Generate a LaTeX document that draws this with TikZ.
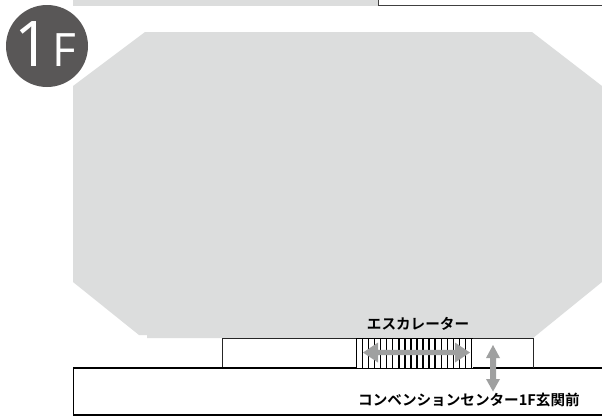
\documentclass[tikz,border=0pt]{standalone}
\usepackage{fontspec}
\newfontfamily\jpfont{Noto Sans CJK JP}[BoldFont={* Bold}]
\newfontfamily\openfont{Open Sans}
\definecolor{floorgray}{HTML}{DCDDDD}
\definecolor{arrowgray}{HTML}{9FA0A0}
\definecolor{badge}{HTML}{595757}
\tikzset{
  x=1pt,y=-1pt,
  wall/.style={draw=black,line width=1.5pt,fill=white},
  stripe/.style={draw=black,line width=1.35pt},
  label/.style={font=\jpfont\bfseries\fontsize{14.6}{14.6}\selectfont,text=black,inner sep=0pt},
  flow/.style={fill=arrowgray,draw=none}
}
\begin{document}
\begin{tikzpicture}
\useasboundingbox (0,0) rectangle (602,416);
\fill[white] (0,0) rectangle (602,416);
% top strip
\fill[floorgray] (73,0) rectangle (378,6);
\draw[draw=black!75,line width=1pt] (378.5,-2) -- (378.5,5) -- (604,5);
% main floor
\fill[floorgray] (145,32) -- (532,32) -- (602,86) -- (602,282) -- (533,338) -- (147,338) -- (147,335) -- (139,335) -- (73,282) -- (73,86) -- cycle;
% bottom rooms
\draw[wall] (73.5,368) rectangle (606,415);
\draw[draw=black!85,line width=1pt,fill=white] (222.5,368) -- (222.5,338) -- (533,338) -- (533,368);
\fill[white] (223.2,366) rectangle (532.4,369.5);
\draw[draw=black,line width=1.5pt] (222,368) -- (533,368);
% escalator
\fill[white] (356,338) rectangle (473,368);
\foreach \i in {0,...,19} \draw[stripe] ({356.5+\i*6.05},338) -- ({356.5+\i*6.05},368);
\draw[stripe,line width=1pt] (356,338) -- (473,338);
\draw[stripe,line width=1.5pt] (356,368.3) -- (473,368.3);
% arrows
\fill[flow] (363,352.5) -- (378,342.5) -- (378,349.8) -- (455,349.8) -- (455,342.5) -- (470,352.5) -- (455,362.5) -- (455,355.2) -- (378,355.2) -- (378,362.5) -- cycle;
\fill[flow] (493,345) -- (500,358) -- (496,358) -- (496,379) -- (500,379) -- (493,391.5) -- (486,379) -- (490,379) -- (490,358) -- (486,358) -- cycle;
% labels
\node[label] (esc) at (418,324) {エスカレーター};
\node[label] (front) at (469,399.5) {コンベンションセンター1F玄関前};
% badge
\node[circle,fill=badge,minimum size=82pt,inner sep=0pt] (badge) at (47,46) {};
\node[font=\openfont\fontsize{63}{63}\selectfont,text=white,inner sep=0pt] (one) at (33,44.5) {1};
\node[font=\openfont\fontsize{46}{46}\selectfont,text=white,inner sep=0pt] (eff) at (64,50) {F};
\end{tikzpicture}
\end{document}
